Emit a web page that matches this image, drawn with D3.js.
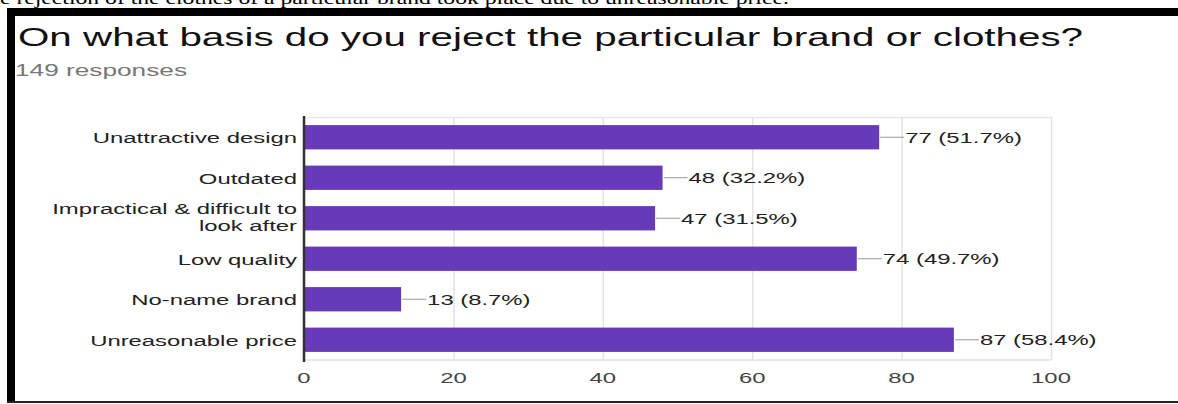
<!DOCTYPE html>
<html>
<head>
<meta charset="utf-8">
<script src="https://cdn.jsdelivr.net/npm/d3@7"></script>
<style>
  html, body { margin: 0; padding: 0; background: #fff; }
  svg { display: block; }
</style>
</head>
<body>
<svg id="chart" width="1178" height="404"></svg>
<script>
// Survey answers: reasons for rejecting a brand or clothes
const categories = [
  ["Unattractive design"],
  ["Outdated"],
  ["Impractical & difficult to", "look after"],
  ["Low quality"],
  ["No-name brand"],
  ["Unreasonable price"]
];
const counts = [77, 48, 47, 74, 13, 87];
const percents = [51.7, 32.2, 31.5, 49.7, 8.7, 58.4];
const xTicks = [0, 20, 40, 60, 80, 100];
const totalResponses = 149;

const titleText = "On what basis do you reject the particular brand or clothes?";
const captionText = "e rejection of the clothes of a particular brand took place due to unreasonable price.";

const W = 1178, H = 404;
const SX = 1.54;            // horizontal text stretch
const sans = "'Liberation Sans', Arial, sans-serif";
const svg = d3.select("#chart");

// stretched text helper
function txt(g, x, y, str, opts) {
  return g.append("text")
    .attr("transform", `translate(${x},${y}) scale(${opts.sx || SX},1)`)
    .attr("font-family", opts.family || sans)
    .attr("font-size", opts.size)
    .attr("fill", opts.fill || "#222")
    .attr("text-anchor", opts.anchor || "start")
    .text(str);
}

// fixed-width text helper
function fitted(g, x, y, str, width, opts) {
  return g.append("text")
    .attr("x", x).attr("y", y)
    .attr("font-family", opts.family || sans)
    .attr("font-size", opts.size)
    .attr("fill", opts.fill || "#222")
    .attr("textLength", width)
    .attr("lengthAdjust", "spacingAndGlyphs")
    .text(str);
}

// running document text above the frame
txt(svg, 0, 4, captionText, { family: "'Liberation Serif', 'Times New Roman', serif", size: 16, fill: "#000", sx: 1.48 });

// black frame
svg.append("rect").attr("x", 7).attr("y", 8).attr("width", W - 7).attr("height", 8).attr("fill", "#000");
svg.append("rect").attr("x", 7).attr("y", 8).attr("width", 8).attr("height", H - 10).attr("fill", "#000");
svg.append("rect").attr("x", 7).attr("y", 401).attr("width", W - 7).attr("height", 2).attr("fill", "#222");

// heading
fitted(svg, 18, 46, titleText, 1065, { size: 26, fill: "#111" });
fitted(svg, 15, 76, `${totalResponses} responses`, 172, { size: 16, fill: "#777" });

// scales
const x = d3.scaleLinear().domain([0, 100]).range([304, 1051]);
const y = d3.scaleBand()
  .domain(categories.map((c, i) => i))
  .range([117, 360])
  .paddingInner(0.4)
  .paddingOuter(0.2);

const plot = svg.append("g");

// grid lines
const grid = d3.axisBottom(x).tickValues(xTicks).tickSize(-(360 - 117)).tickFormat("");
plot.append("g")
  .attr("transform", "translate(0,360)")
  .call(grid)
  .call(g => g.select(".domain").remove())
  .call(g => g.selectAll(".tick line").attr("stroke", "#e3e3e3").attr("stroke-width", 1.5));
plot.append("line").attr("x1", x(0)).attr("x2", x(100)).attr("y1", 117.5).attr("y2", 117.5)
  .attr("stroke", "#e8e8e8").attr("stroke-width", 1.5);
plot.append("line").attr("x1", x(0)).attr("x2", x(100)).attr("y1", 360).attr("y2", 360)
  .attr("stroke", "#e3e3e3").attr("stroke-width", 1.5);

// tick labels
xTicks.forEach(v => txt(plot, x(v), 383, String(v), { size: 15.5, fill: "#444", anchor: "middle" }));

// bars
plot.selectAll("rect.bar")
  .data(counts)
  .join("rect")
  .attr("class", "bar")
  .attr("x", x(0))
  .attr("y", (d, i) => y(i))
  .attr("width", d => x(d) - x(0))
  .attr("height", y.bandwidth())
  .attr("fill", "#673ab7");

// zero axis
plot.append("line").attr("x1", x(0)).attr("x2", x(0)).attr("y1", 116).attr("y2", 362)
  .attr("stroke", "#333").attr("stroke-width", 2.5);

// category labels
categories.forEach((lines, i) => {
  const cy = y(i) + y.bandwidth() / 2;
  const lh = 17;
  const start = cy - (lines.length - 1) * lh / 2 + (lines.length > 1 ? 4 : 6);
  lines.forEach((ln, k) => txt(plot, 297, start + k * lh, ln, { size: 15.5, fill: "#222", anchor: "end" }));
});

// value labels with leader lines
counts.forEach((v, i) => {
  const cy = y(i) + y.bandwidth() / 2;
  const x0 = x(v);
  plot.append("line").attr("x1", x0 + 1).attr("x2", x0 + 25).attr("y1", cy).attr("y2", cy)
    .attr("stroke", "#999").attr("stroke-width", 1);
  txt(plot, x0 + 26, cy + 5.5, `${v} (${percents[i]}%)`, { size: 15.5, fill: "#222" });
});
</script>
</body>
</html>
